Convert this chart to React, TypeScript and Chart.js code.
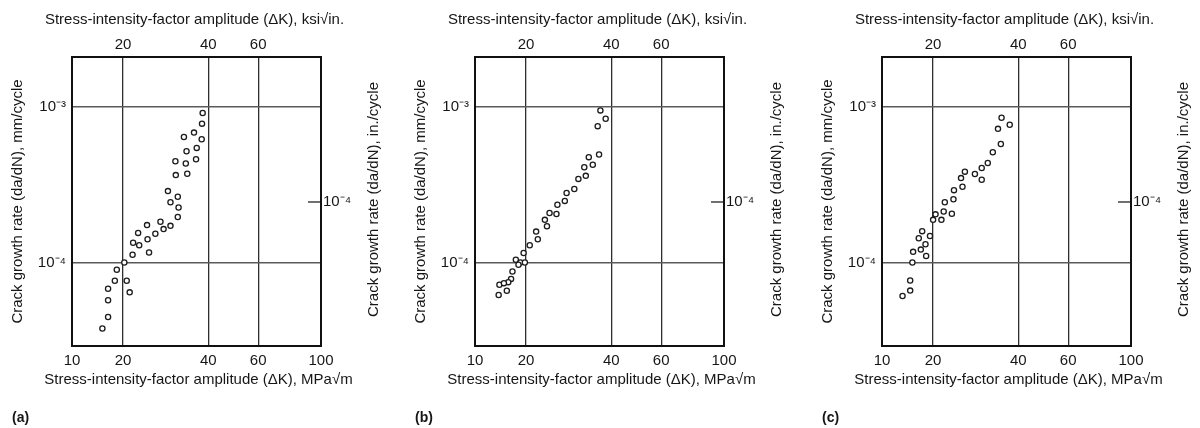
import React, { useEffect, useRef } from "react";
import { Chart, registerables } from "chart.js";

Chart.register(...registerables);

// ---------- data ----------
// Panel (a)
const aDeltaK = [38.2, 38.0, 35.6, 32.8, 37.9, 36.4, 33.5, 30.6, 33.3, 36.2, 30.7, 33.7, 28.8, 31.2, 29.4, 31.4, 31.2, 27.1, 24.3, 29.4, 27.8, 26.0, 22.6, 24.4, 21.7, 22.8, 24.7, 21.6, 20.2, 19.0, 18.7, 20.6, 17.7, 17.7, 21.1, 17.7, 16.9];
const aRate = [9.15e-4, 7.82e-4, 6.85e-4, 6.42e-4, 6.21e-4, 5.46e-4, 5.2e-4, 4.48e-4, 4.33e-4, 4.62e-4, 3.65e-4, 3.72e-4, 2.88e-4, 2.65e-4, 2.44e-4, 2.26e-4, 1.96e-4, 1.83e-4, 1.74e-4, 1.72e-4, 1.64e-4, 1.53e-4, 1.55e-4, 1.41e-4, 1.34e-4, 1.29e-4, 1.16e-4, 1.12e-4, 1.0e-4, 8.98e-5, 7.63e-5, 7.63e-5, 6.78e-5, 5.71e-5, 6.42e-5, 4.46e-5, 3.76e-5];

// Panel (b)
const bDeltaK = [36.6, 38.2, 35.8, 36.2, 33.3, 34.4, 32.1, 32.5, 30.6, 29.6, 27.8, 27.4, 25.8, 25.6, 24.2, 23.3, 23.7, 21.7, 22.0, 20.6, 19.6, 18.4, 19.1, 18.8, 19.8, 17.9, 17.7, 17.3, 16.1, 17.1, 16.0, 16.7];
const bRate = [9.52e-4, 8.41e-4, 7.54e-4, 4.95e-4, 4.76e-4, 4.25e-4, 4.1e-4, 3.61e-4, 3.45e-4, 2.97e-4, 2.8e-4, 2.49e-4, 2.35e-4, 2.05e-4, 2.08e-4, 1.88e-4, 1.71e-4, 1.58e-4, 1.41e-4, 1.29e-4, 1.15e-4, 1.04e-4, 1.0e-4, 9.66e-5, 1.0e-4, 8.75e-5, 7.84e-5, 7.47e-5, 7.18e-5, 6.57e-5, 6.18e-5, 7.36e-5];

// Panel (c)
const cDeltaK = [34.9, 37.3, 33.9, 34.7, 32.5, 31.2, 29.7, 28.1, 29.7, 25.9, 25.1, 25.4, 23.7, 23.6, 22.0, 21.8, 23.3, 21.4, 20.4, 20.0, 19.5, 18.3, 17.8, 18.8, 18.1, 17.0, 18.9, 16.9, 16.6, 16.6, 15.6];
const cRate = [8.53e-4, 7.69e-4, 7.24e-4, 5.79e-4, 5.12e-4, 4.37e-4, 4.05e-4, 3.71e-4, 3.41e-4, 3.84e-4, 3.49e-4, 3.07e-4, 2.92e-4, 2.55e-4, 2.44e-4, 2.13e-4, 2.06e-4, 1.88e-4, 2.04e-4, 1.88e-4, 1.48e-4, 1.59e-4, 1.43e-4, 1.31e-4, 1.21e-4, 1.17e-4, 1.1e-4, 1.0e-4, 7.65e-5, 6.59e-5, 6.09e-5];

// axes
const X_MIN = 13.2;
const X_MAX = 100;
const Y_MIN = 2.9e-5;
const Y_MAX = 2.1e-3;
const bottomTickValues = [13.2, 20, 40, 60, 100];
const bottomTickLabels = ["10", "20", "40", "60", "100"];
const topTickValues = [20, 40, 60];
const topTickLabels = ["20", "40", "60"];
const leftTickValues = [1e-3, 1e-4];
const leftTickLabels = ["10\u207B\u00B3", "10\u207B\u2074"];
const rightTickValues = [2.45e-4];
const rightTickLabels = ["10\u207B\u2074"];

const bottomTitle = "Stress-intensity-factor amplitude (\u0394K), MPa\u221Am";
const topTitle = "Stress-intensity-factor amplitude (\u0394K), ksi\u221Ain.";
const leftTitle = "Crack growth rate (da/dN), mm/cycle";
const rightTitle = "Crack growth rate (da/dN), in./cycle";

const panelLabels = ["(a)", "(b)", "(c)"];

// ---------- style ----------
const FAMILY = "'Liberation Sans', Arial, Helvetica, sans-serif";
const TEXT = "#161616";
const FONT = { family: FAMILY, size: 15 };
const CANVAS_W = 385;
const CANVAS_H = 428;
const LEFT_W = 72;
const PLOT_W = 249;
const TOP_H = 57;
const BOTTOM_H = 82;

const decorPlugin = {
  id: "decor",
  afterDraw(chart: any, _args: any, opts: any) {
    const { ctx, chartArea: a } = chart;
    const cx = (a.left + a.right) / 2;
    ctx.save();
    ctx.strokeStyle = "#111";
    ctx.lineWidth = 2;
    ctx.strokeRect(a.left, a.top, a.right - a.left, a.bottom - a.top);
    const y2 = chart.scales.y2;
    ctx.lineWidth = 1.2;
    y2.ticks.forEach((t: any) => {
      const py = y2.getPixelForValue(t.value);
      ctx.beginPath();
      ctx.moveTo(a.right - 13, py);
      ctx.lineTo(a.right, py);
      ctx.stroke();
    });
    ctx.fillStyle = TEXT;
    ctx.font = `15px ${FAMILY}`;
    ctx.textAlign = "center";
    ctx.textBaseline = "middle";
    ctx.fillText(opts.topTitle, cx - 2, 20);
    ctx.fillText(opts.bottomTitle, cx + 2, 380);
    ctx.translate(a.right + 53, (a.top + a.bottom) / 2 - 2);
    ctx.rotate(-Math.PI / 2);
    ctx.fillText(opts.rightTitle, 0, 0);
    ctx.restore();

    ctx.save();
    ctx.font = `bold 14px ${FAMILY}`;
    ctx.fillStyle = TEXT;
    ctx.textAlign = "left";
    ctx.textBaseline = "middle";
    ctx.fillText(opts.panel, opts.panelX, 418);
    ctx.restore();
  },
};

function Panel({ dk, rate, label, left }: { dk: number[]; rate: number[]; label: string; left: number }) {
  const ref = useRef<HTMLCanvasElement | null>(null);
  useEffect(() => {
    if (!ref.current) return;
    const points = dk.map((x, i) => ({ x, y: rate[i] }));
    const chart = new Chart(ref.current, {
      type: "scatter",
      data: {
        datasets: [
          {
            data: points,
            pointStyle: "circle",
            pointRadius: 2.6,
            pointBorderWidth: 1.3,
            pointBorderColor: "#1c1c1c",
            pointBackgroundColor: "#ffffff",
            showLine: false,
            xAxisID: "x",
            yAxisID: "y",
          },
        ],
      },
      options: {
        animation: false,
        responsive: false,
        maintainAspectRatio: false,
        layout: { padding: 0 },
        events: [],
        plugins: {
          legend: { display: false },
          tooltip: { enabled: false },
          title: { display: false },
          decor: { rightTitle, topTitle, bottomTitle, panel: label, panelX: 12 },
        } as any,
        scales: {
          x: {
            type: "logarithmic",
            position: "bottom",
            min: X_MIN,
            max: X_MAX,
            afterBuildTicks: (s: any) => {
              s.ticks = bottomTickValues.map((v) => ({ value: v }));
            },
            afterFit: (s: any) => {
              s.height = BOTTOM_H;
            },
            ticks: {
              autoSkip: false,
              maxRotation: 0,
              minRotation: 0,
              padding: 6,
              color: TEXT,
              font: FONT,
              callback: (_v: any, i: number) => bottomTickLabels[i],
            },
            grid: { display: true, drawTicks: false, color: "#2e2e2e", lineWidth: 1.3 },
            border: { display: false },
            title: { display: false },
          },
          x2: {
            type: "logarithmic",
            position: "top",
            axis: "x",
            min: X_MIN,
            max: X_MAX,
            afterBuildTicks: (s: any) => {
              s.ticks = topTickValues.map((v) => ({ value: v }));
            },
            afterFit: (s: any) => {
              s.height = TOP_H;
            },
            ticks: {
              autoSkip: false,
              maxRotation: 0,
              minRotation: 0,
              padding: 3,
              color: TEXT,
              font: FONT,
              callback: (_v: any, i: number) => topTickLabels[i],
            },
            grid: { display: false, drawTicks: false },
            border: { display: false },
            title: { display: false },
          },
          y: {
            type: "logarithmic",
            position: "left",
            min: Y_MIN,
            max: Y_MAX,
            afterBuildTicks: (s: any) => {
              s.ticks = leftTickValues.map((v) => ({ value: v }));
            },
            afterFit: (s: any) => {
              s.width = LEFT_W;
            },
            ticks: {
              autoSkip: false,
              padding: 6,
              color: TEXT,
              font: FONT,
              callback: (_v: any, i: number) => leftTickLabels[i],
            },
            grid: { display: true, drawTicks: false, color: "#5a5a5a", lineWidth: 1.4 },
            border: { display: false },
            title: { display: true, text: leftTitle, color: TEXT, font: FONT, padding: { top: 9, bottom: 0 } },
          },
          y2: {
            type: "logarithmic",
            position: "right",
            axis: "y",
            min: Y_MIN,
            max: Y_MAX,
            afterBuildTicks: (s: any) => {
              s.ticks = rightTickValues.map((v) => ({ value: v }));
            },
            afterFit: (s: any) => {
              s.width = CANVAS_W - LEFT_W - PLOT_W;
            },
            ticks: {
              autoSkip: false,
              padding: 2,
              color: TEXT,
              font: FONT,
              callback: (_v: any, i: number) => rightTickLabels[i],
            },
            grid: { display: false, drawTicks: false },
            border: { display: false },
          },
        } as any,
      },
      plugins: [decorPlugin as any],
    });
    return () => chart.destroy();
  }, [dk, rate, label]);

  return (
    <canvas
      ref={ref}
      width={CANVAS_W}
      height={CANVAS_H}
      style={{ position: "absolute", left, top: 0, width: CANVAS_W, height: CANVAS_H, display: "block" }}
    />
  );
}

export default function App() {
  return (
    <div
      style={{
        position: "absolute",
        left: 0,
        top: 0,
        width: 1200,
        height: 428,
        background: "#ffffff",
        overflow: "hidden",
      }}
    >
      <Panel dk={aDeltaK} rate={aRate} label={panelLabels[0]} left={0} />
      <Panel dk={bDeltaK} rate={bRate} label={panelLabels[1]} left={403} />
      <Panel dk={cDeltaK} rate={cRate} label={panelLabels[2]} left={810} />
    </div>
  );
}
